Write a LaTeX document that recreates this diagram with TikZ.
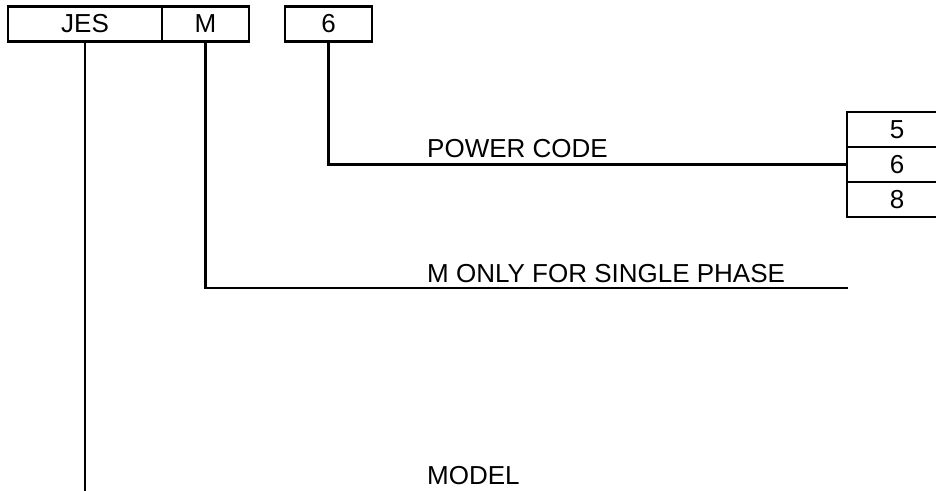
\documentclass[tikz,border=0pt]{standalone}
\usepackage{fontspec}
\setmainfont{Liberation Sans}
\usetikzlibrary{calc}
\tikzset{
    campo/.style={draw=black, line width=2.8pt, rectangle, inner sep=0pt, minimum height=35pt},
    rotulo/.style={anchor=base west, inner sep=0pt},
    linha/.style={draw=black, line width=2.8pt}
}

\begin{document}
\begin{tikzpicture}[x=1pt, y=-1pt, font=\fontsize{26}{31}\selectfont]
    \useasboundingbox (0,0) rectangle (936,490);
    \node[campo, minimum width=154pt] (jes) at (85,24) {JES};
    \node[campo, minimum width=87pt] (m) at (205.5,24) {M};
    \node[campo, minimum width=87pt] (six) at (328.5,24) {6};
    \node[campo, minimum width=100pt] (p5) at (897,129.5) {5};
    \node[campo, minimum width=100pt] (p6) at (897,164.5) {6};
    \node[campo, minimum width=100pt] (p8) at (897,199.5) {8};
    \coordinate (fimjes) at (85,495);
    \coordinate (fimm) at (848,288);
    \draw[linha] (six.south) |- (p6.west);
    \draw[linha] (m.south) |- (fimm);
    \draw[linha] (jes.south) -- (fimjes);
    \node[rotulo] (power) at (427,157) {POWER CODE};
    \node[rotulo] (fase) at (427,282) {M ONLY FOR SINGLE PHASE};
    \node[rotulo] (model) at (427,484) {MODEL};
\end{tikzpicture}
\end{document}
